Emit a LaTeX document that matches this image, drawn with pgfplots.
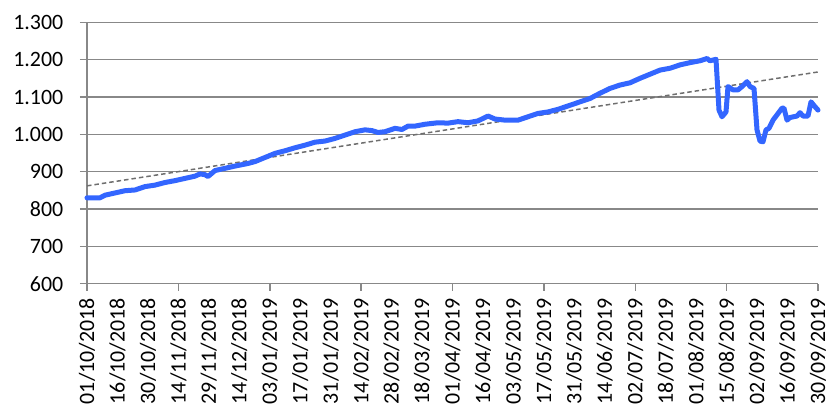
\documentclass[border=0pt]{standalone}
\usepackage{fontspec}
\setmainfont{Carlito}
\usepackage{pgfplots}
\pgfplotsset{compat=1.18}
\definecolor{lineblue}{RGB}{51,102,255}
\definecolor{gridgray}{RGB}{136,136,136}
\definecolor{trendgray}{RGB}{110,110,110}

\pgfplotstableread{
px val
87 830
100 830
105 837
115 843
125 849
135 851
145 860
155 864
165 871
175 876
185 882
195 888
200 894
205 892
208 887
215 903
225 909
235 915
248 922
255 927
265 938
275 949
285 956
295 964
305 971
315 979
325 982
335 989
345 998
355 1007
365 1012
372 1010
378 1005
385 1007
395 1016
402 1013
408 1022
415 1022
425 1027
438 1031
448 1030
458 1034
468 1031
478 1036
488 1049
495 1041
505 1038
518 1038
528 1047
538 1056
548 1060
558 1067
568 1076
580 1087
590 1096
600 1110
610 1123
620 1132
630 1138
640 1150
650 1161
660 1172
670 1177
680 1186
690 1192
700 1197
707 1203
710 1197
716 1201
719 1065
722 1047
726 1060
728 1128
733 1119
738 1119
742 1128
747 1141
750 1128
754 1123
757 1012
760 982
763 980
766 1012
769 1016
773 1038
782 1070
784 1070
787 1038
790 1045
797 1049
800 1058
803 1049
808 1049
811 1087
815 1074
818 1065
}\series

\begin{document}
\begin{tikzpicture}
\begin{axis}[
    at={(0,0)}, anchor=south west,
    scale only axis,
    width=731bp, height=261.4bp,
    xmin=0, xmax=24,
    ymin=600, ymax=1300,
    clip=false,
    axis x line*=bottom,
    axis y line*=left,
    axis line style={draw=gridgray, line width=1.5bp},
    ytick={600,700,...,1300},
    yticklabels={600,700,800,900,1.000,1.100,1.200,1.300},
    ymajorgrids=true,
    grid style={draw=gridgray, line width=1.5bp},
    tick style={draw=gridgray, line width=1.5bp},
    tick align=outside,
    major tick length=7bp,
    xtick={0,3,...,24},
    xticklabels={},
    extra x ticks={0,1,...,24},
    extra x tick labels={01/10/2018,16/10/2018,30/10/2018,14/11/2018,29/11/2018,14/12/2018,03/01/2019,17/01/2019,31/01/2019,14/02/2019,28/02/2019,18/03/2019,01/04/2019,16/04/2019,03/05/2019,17/05/2019,31/05/2019,14/06/2019,02/07/2019,18/07/2019,01/08/2019,15/08/2019,02/09/2019,16/09/2019,30/09/2019},
    extra x tick style={major tick length=0pt, grid=none,
        xticklabel style={rotate=90, anchor=east, inner sep=0pt, xshift=-14.5bp}},
    ticklabel style={font=\fontsize{22}{24}\selectfont, text=black},
    yticklabel style={anchor=east, inner sep=0pt, xshift=-16.5bp},
    x filter/.expression={(x-87)/30.4583},
]
\addplot[trendgray, line width=1.5bp, dash pattern=on 4.5bp off 3bp] coordinates {(87,862) (818,1167)};
\addplot[lineblue, line width=5bp, line join=round, line cap=round] table[x=px, y=val] {\series};
\end{axis}
\pgfresetboundingbox
\useasboundingbox (-87bp,-128.3bp) rectangle (745bp,283.7bp);
\end{tikzpicture}
\end{document}
